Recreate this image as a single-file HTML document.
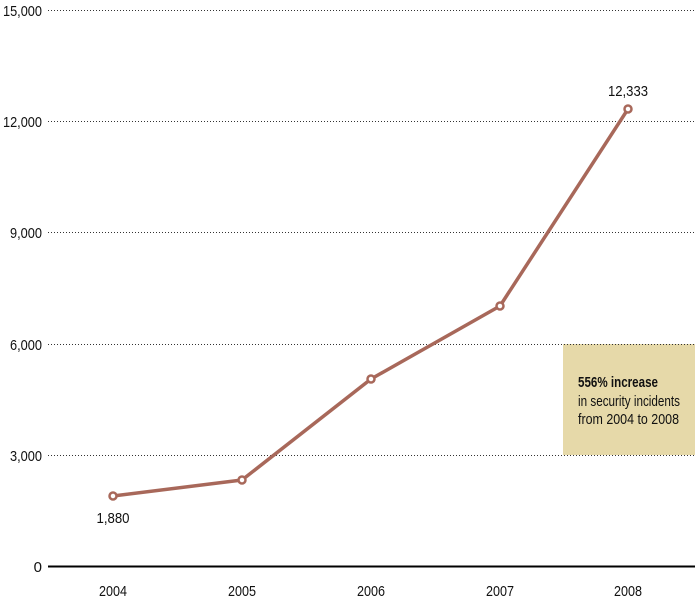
<!DOCTYPE html>
<html><head><meta charset="utf-8"><style>
html,body{margin:0;padding:0;background:#fff;}
svg{display:block;font-family:"Liberation Sans Narrow","Liberation Sans",sans-serif;}
</style></head><body>
<svg width="700" height="614" viewBox="0 0 700 614" xmlns="http://www.w3.org/2000/svg">
<rect width="700" height="614" fill="#fff"/>
<rect x="563" y="344" width="132" height="111" fill="#e6d9a9"/>
<g stroke="#333" stroke-width="1" stroke-dasharray="1,2">
<line x1="48" y1="10.5" x2="695" y2="10.5"/>
<line x1="48" y1="121.5" x2="695" y2="121.5"/>
<line x1="48" y1="232.5" x2="695" y2="232.5"/>
<line x1="48" y1="344.5" x2="695" y2="344.5"/>
<line x1="48" y1="455.5" x2="695" y2="455.5"/>
</g>
<line x1="48" y1="566.5" x2="695" y2="566.5" stroke="#000" stroke-width="2"/>
<g font-size="15" fill="#111" text-anchor="end">
<text x="42" y="16" textLength="39" lengthAdjust="spacingAndGlyphs">15,000</text>
<text x="42" y="127" textLength="39" lengthAdjust="spacingAndGlyphs">12,000</text>
<text x="42" y="238" textLength="32" lengthAdjust="spacingAndGlyphs">9,000</text>
<text x="42" y="350" textLength="32" lengthAdjust="spacingAndGlyphs">6,000</text>
<text x="42" y="461" textLength="32" lengthAdjust="spacingAndGlyphs">3,000</text>
<text x="42" y="572">0</text>
</g>
<g font-size="15" fill="#111" text-anchor="middle">
<text x="113" y="596" textLength="28" lengthAdjust="spacingAndGlyphs">2004</text>
<text x="242" y="596" textLength="28" lengthAdjust="spacingAndGlyphs">2005</text>
<text x="371" y="596" textLength="28" lengthAdjust="spacingAndGlyphs">2006</text>
<text x="500" y="596" textLength="28" lengthAdjust="spacingAndGlyphs">2007</text>
<text x="628" y="596" textLength="28" lengthAdjust="spacingAndGlyphs">2008</text>
<text x="113" y="523" textLength="33" lengthAdjust="spacingAndGlyphs">1,880</text>
<text x="628" y="96" textLength="40" lengthAdjust="spacingAndGlyphs">12,333</text>
</g>
<polyline points="113,496 242,480 371,379 500,306 628,109" fill="none" stroke="#a8685a" stroke-width="3.5" stroke-linejoin="round"/>
<g fill="#fff" stroke="#a8685a" stroke-width="2.5">
<circle cx="113" cy="496" r="3.5"/><circle cx="242" cy="480" r="3.5"/><circle cx="371" cy="379" r="3.5"/><circle cx="500" cy="306" r="3.5"/><circle cx="628" cy="109" r="3.5"/>
</g>
<g font-size="15" fill="#111">
<text x="578" y="387" font-weight="bold" textLength="80" lengthAdjust="spacingAndGlyphs">556% increase</text>
<text x="578" y="406" textLength="102" lengthAdjust="spacingAndGlyphs">in security incidents</text>
<text x="578" y="424" textLength="101" lengthAdjust="spacingAndGlyphs">from 2004 to 2008</text>
</g>
</svg>
</body></html>
